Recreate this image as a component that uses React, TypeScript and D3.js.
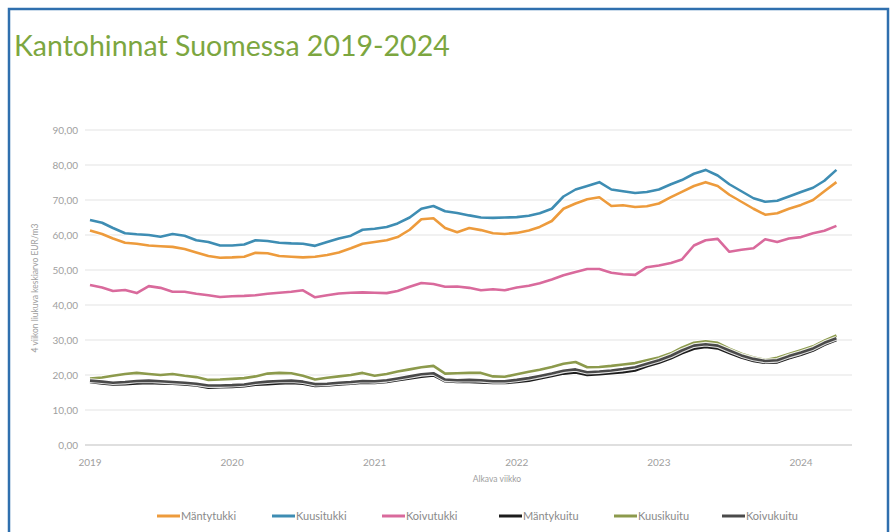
import React, { useEffect, useRef } from "react";
import * as d3 from "d3";

// monthly readings, Jan 2019 .. Apr 2024 (4-week moving average, EUR/m3)
const seriesNames = ["Mäntytukki", "Kuusitukki", "Koivutukki", "Mäntykuitu", "Kuusikuitu", "Koivukuitu"];
const seriesColors = ["#ED9B3C", "#3E8DB3", "#D96A9C", "#1c1c1c", "#8C9A4C", "#4a4a4a"];

const mantytukki = [
  61.3, 60.3, 59, 57.8, 57.5, 57, 56.8, 56.6, 56, 55, 54, 53.5,
  53.6, 53.8, 54.9, 54.8, 54, 53.8, 53.6, 53.8, 54.3, 55, 56.2, 57.5,
  58, 58.5, 59.4, 61.5, 64.5, 64.8, 62, 60.8, 62, 61.4, 60.5, 60.3,
  60.6, 61.3, 62.3, 64, 67.5, 69, 70.2, 70.8, 68.3, 68.5, 68, 68.2,
  69, 70.8, 72.3, 74, 75.1, 74, 71.5, 69.5, 67.5, 65.8, 66.2, 67.5,
  68.6, 70, 72.5, 75.1,
];
const kuusitukki = [
  64.3, 63.5, 62, 60.5, 60.2, 60, 59.5, 60.3, 59.8, 58.5, 58, 57,
  57, 57.3, 58.5, 58.3, 57.8, 57.6, 57.5, 56.9, 58, 59, 59.8, 61.5,
  61.8, 62.3, 63.3, 65, 67.5, 68.3, 66.8, 66.3, 65.6, 65, 64.9, 65,
  65.1, 65.5, 66.2, 67.5, 71, 73, 74, 75.1, 73, 72.5, 72, 72.3,
  73, 74.5, 75.7, 77.5, 78.6, 77, 74.5, 72.5, 70.5, 69.5, 69.8, 71,
  72.3, 73.5, 75.5, 78.6,
];
const koivutukki = [
  45.7, 45, 44, 44.3, 43.4, 45.4, 44.9, 43.8, 43.8, 43.2, 42.8, 42.3,
  42.5, 42.6, 42.8, 43.2, 43.5, 43.8, 44.2, 42.2, 42.8, 43.3, 43.5, 43.6,
  43.5, 43.4, 44, 45.2, 46.3, 46, 45.2, 45.3, 44.9, 44.2, 44.5, 44.2,
  45, 45.5, 46.2, 47.3, 48.5, 49.4, 50.3, 50.3, 49.2, 48.8, 48.6, 50.8,
  51.3, 52, 53, 57, 58.5, 58.9, 55.2, 55.8, 56.2, 58.8, 58, 59,
  59.4, 60.5, 61.2, 62.6,
];
const mantykuitu = [
  18, 17.6, 17.3, 17.4, 17.6, 17.7, 17.6, 17.5, 17.3, 17, 16.4, 16.5,
  16.6, 16.8, 17.2, 17.4, 17.6, 17.7, 17.5, 16.9, 17, 17.3, 17.5, 17.8,
  17.7, 18, 18.5, 19, 19.5, 19.9, 18.2, 18, 18, 17.9, 17.7, 17.7,
  18, 18.4, 19, 19.7, 20.4, 20.7, 20, 20.2, 20.5, 20.8, 21.3, 22.5,
  23.5, 24.8, 26.2, 27.5, 28, 27.6, 26.3, 25, 24, 23.5, 23.6, 24.8,
  25.8, 27, 28.6, 30,
];
const kuusikuitu = [
  19, 19.3, 19.8, 20.3, 20.6, 20.3, 20, 20.3, 19.8, 19.4, 18.6, 18.7,
  18.9, 19.1, 19.6, 20.4, 20.6, 20.5, 19.8, 18.7, 19.2, 19.6, 20, 20.6,
  19.8, 20.3, 21, 21.6, 22.2, 22.6, 20.4, 20.5, 20.6, 20.6, 19.6, 19.5,
  20.2, 20.9, 21.5, 22.3, 23.2, 23.7, 22.2, 22.3, 22.6, 23, 23.4, 24.2,
  25, 26.2, 27.8, 29.2, 29.6, 29.2, 27.5, 26.1, 25, 24.3, 24.9, 26,
  27.1, 28.2, 29.8, 31.3,
];
const koivukuitu = [
  18.4, 18.1, 17.8, 18, 18.3, 18.4, 18.2, 18, 17.8, 17.5, 17, 17,
  17.1, 17.3, 17.8, 18.1, 18.3, 18.4, 18.1, 17.4, 17.5, 17.8, 18, 18.3,
  18.2, 18.5, 19, 19.6, 20.2, 20.5, 18.7, 18.5, 18.6, 18.5, 18.2, 18.2,
  18.6, 19.1, 19.7, 20.4, 21.2, 21.6, 20.8, 21, 21.3, 21.7, 22.2, 23.2,
  24.2, 25.5, 27, 28.4, 28.8, 28.4, 27, 25.6, 24.6, 24, 24.2, 25.4,
  26.4, 27.6, 29.2, 30.5,
];
const allSeries = [mantytukki, kuusitukki, koivutukki, mantykuitu, kuusikuitu, koivukuitu];

const yTicks = [0, 10, 20, 30, 40, 50, 60, 70, 80, 90];
const yearTicks = [2019, 2020, 2021, 2022, 2023, 2024];
const startDate = new Date(2019, 0, 1);

const W = 891;
const H = 532;
const FONT = "Lato, 'Open Sans', sans-serif";

export default function App() {
  const ref = useRef<SVGSVGElement | null>(null);

  useEffect(() => {
    if (!ref.current) return;
    const svg = d3.select(ref.current);
    svg.selectAll("*").remove();

    const dates = mantytukki.map((_, i) => d3.timeMonth.offset(startDate, i));

    const x = d3
      .scaleTime()
      .domain([new Date(2019, 0, 1), new Date(2024, 0, 1)])
      .range([90, 801]);
    const y = d3.scaleLinear().domain([0, 90]).range([445, 130]);

    svg.append("rect").attr("width", W).attr("height", H).attr("fill", "#fff");

    // frame
    svg
      .append("path")
      .attr("d", `M9,${H + 5} L9,9 L888,9 L888,${H + 5}`)
      .attr("fill", "none")
      .attr("stroke", "#2f6fae")
      .attr("stroke-width", 2.5);

    svg
      .append("text")
      .attr("x", 14)
      .attr("y", 56)
      .attr("font-family", FONT)
      .attr("font-size", 28.5)
      .attr("fill", "#7ca640")
      .text("Kantohinnat Suomessa 2019-2024");

    // gridlines
    svg
      .append("g")
      .selectAll("line")
      .data(yTicks)
      .join("line")
      .attr("x1", 85)
      .attr("x2", 852)
      .attr("y1", (d) => y(d))
      .attr("y2", (d) => y(d))
      .attr("stroke", (d) => (d === 0 ? "#d4d4d4" : "#ececec"))
      .attr("stroke-width", 1.3);

    svg
      .append("g")
      .selectAll("text")
      .data(yTicks)
      .join("text")
      .attr("x", 78)
      .attr("y", (d) => y(d) + 3.5)
      .attr("text-anchor", "end")
      .attr("font-family", FONT)
      .attr("font-size", 10)
      .attr("fill", "#a0a0a0")
      .text((d) => d3.format(".2f")(d).replace(".", ","));

    svg
      .append("g")
      .selectAll("text")
      .data(yearTicks)
      .join("text")
      .attr("x", (d) => x(new Date(d, 0, 1)))
      .attr("y", 466)
      .attr("text-anchor", "middle")
      .attr("font-family", FONT)
      .attr("font-size", 10)
      .attr("fill", "#a0a0a0")
      .text((d) => String(d));

    svg
      .append("text")
      .attr("x", 497)
      .attr("y", 482)
      .attr("text-anchor", "middle")
      .attr("font-family", FONT)
      .attr("font-size", 8.5)
      .attr("fill", "#a0a0a0")
      .text("Alkava viikko");

    svg
      .append("text")
      .attr("transform", "translate(38,288) rotate(-90)")
      .attr("text-anchor", "middle")
      .attr("font-family", FONT)
      .attr("font-size", 8.5)
      .attr("fill", "#a0a0a0")
      .text("4 viikon liukuva keskiarvo EUR/m3");

    const line = d3
      .line<number>()
      .x((_, i) => x(dates[i]))
      .y((d) => y(d));

    const lines = svg.append("g");
    allSeries.forEach((s, i) => {
      lines
        .append("path")
        .attr("d", line(s))
        .attr("fill", "none")
        .attr("stroke", "#ffffff")
        .attr("stroke-opacity", 0.85)
        .attr("stroke-width", 4.8)
        .attr("stroke-linejoin", "round");
      lines
        .append("path")
        .attr("d", line(s))
        .attr("fill", "none")
        .attr("stroke", seriesColors[i])
        .attr("stroke-width", 2.6)
        .attr("stroke-linejoin", "round");
    });

    // legend
    const legendX = [157, 272, 382, 499, 614, 722];
    const lg = svg.append("g");
    seriesNames.forEach((name, i) => {
      lg.append("line")
        .attr("x1", legendX[i])
        .attr("x2", legendX[i] + 23)
        .attr("y1", 516)
        .attr("y2", 516)
        .attr("stroke", seriesColors[i])
        .attr("stroke-width", 3);
      lg.append("text")
        .attr("x", legendX[i] + 24)
        .attr("y", 520)
        .attr("font-family", FONT)
        .attr("font-size", 11)
        .attr("fill", "#8a8a8a")
        .text(name);
    });
  }, []);

  return (
    <svg
      ref={ref}
      width={W}
      height={H}
      style={{ position: "absolute", left: 0, top: 0, display: "block" }}
    />
  );
}
